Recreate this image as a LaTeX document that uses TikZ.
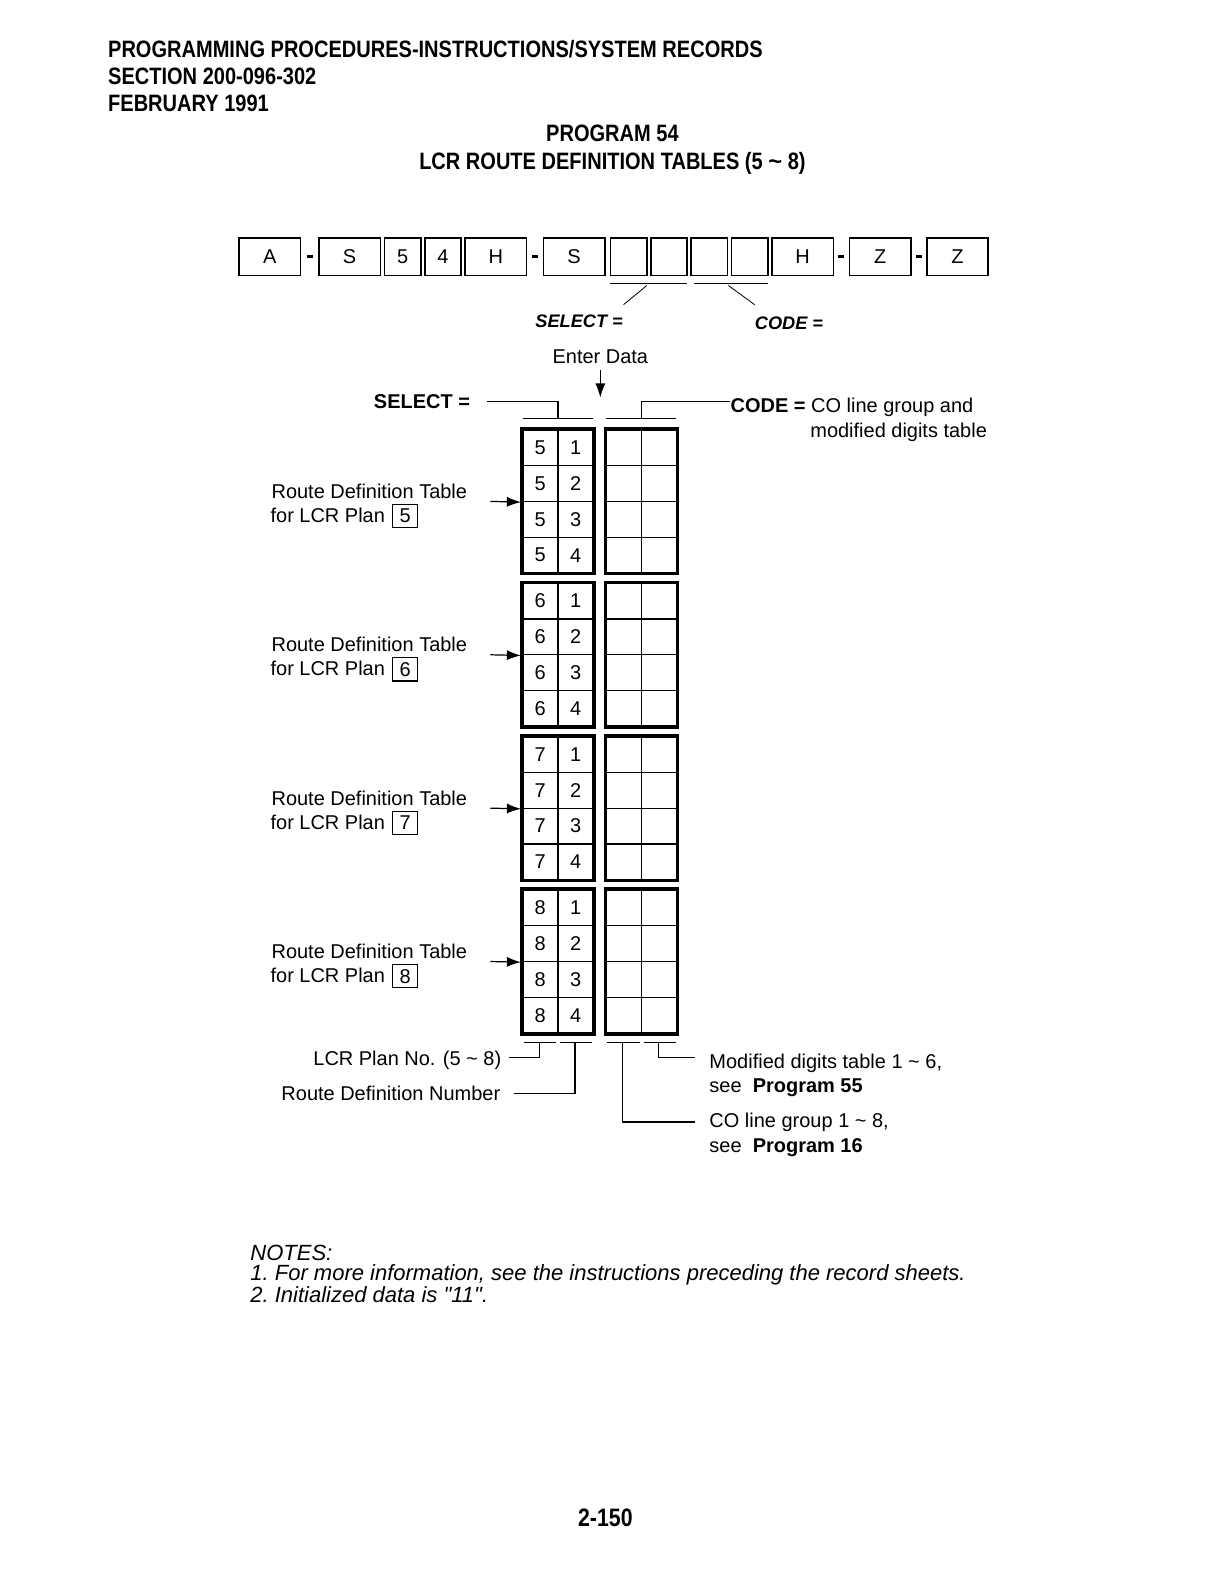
\documentclass[tikz,border=0pt]{standalone}
\usepackage{fontspec}
\setmainfont{Liberation Sans}
\newfontfamily\condb[FakeStretch=0.845]{Liberation Sans Bold}
\newfontfamily\plainsans{Liberation Sans}
\usetikzlibrary{arrows.meta}
\newcommand\fsz[1]{\fontsize{#1}{#1}\selectfont}
\begin{document}
\begin{tikzpicture}[x=1pt,y=-1pt,
  keybox/.style={draw,line width=1.6pt,minimum height=37pt,minimum width=61pt,inner sep=0pt,font=\fsz{19.8}},
  narrowbox/.style={keybox,minimum width=36pt},
  dashbar/.style={fill=black,inner sep=0pt,minimum width=6pt,minimum height=3pt},
  cell/.style={draw,line width=1.3pt,minimum width=35pt,minimum height=35.5pt,inner sep=0pt,font=\fsz{19.8}},
  thickline/.style={line width=3.5pt},
  thinline/.style={line width=1.2pt},
  body/.style={inner sep=0pt,font=\fsz{19.8}},
  bodyb/.style={inner sep=0pt,font=\bfseries\fsz{19.8}},
  hdr/.style={inner sep=0pt,font=\condb\fsz{23.5}},
  notes/.style={inner sep=0pt,font=\plainsans\itshape\fsz{21.8}},
  arr/.style={line width=1.2pt,-{Latex[length=14pt,width=10pt]}},
  plbox/.style={draw,line width=1.3pt,minimum width=25pt,minimum height=23pt,inner sep=0pt,font=\fsz{19.8}}
]
\useasboundingbox[fill=white] (0,0) rectangle (1202,1568);

% header
\node[hdr,anchor=base west] (h1) at (107,57) {PROGRAMMING PROCEDURES-INSTRUCTIONS/SYSTEM RECORDS};
\node[hdr,anchor=base west] (h2) at (107,84) {SECTION 200-096-302};
\node[hdr,anchor=base west] (h3) at (107,111) {FEBRUARY 1991};
\node[hdr,anchor=base] (t1) at (607,140) {PROGRAM 54};
\node[hdr,anchor=base] (t2) at (607,168) {LCR ROUTE DEFINITION TABLES (5 {\fontspec{Liberation Sans}\bfseries\char`~} 8)};

% key row
\node[keybox] (kA) at (267.5,254.5) {A};
\node[dashbar] (d1) at (307.5,254.5) {};
\node[keybox] (kS1) at (346.5,254.5) {S};
\node[narrowbox] (k5) at (399,254.5) {5};
\node[narrowbox] (k4) at (439,254.5) {4};
\node[keybox] (kH1) at (491.5,254.5) {H};
\node[dashbar] (d2) at (530,254.5) {};
\node[keybox] (kS2) at (569,254.5) {S};
\node[narrowbox] (e1) at (623,254.5) {};
\node[narrowbox] (e2) at (663,254.5) {};
\node[narrowbox] (e3) at (703,254.5) {};
\node[narrowbox] (e4) at (743,254.5) {};
\node[keybox] (kH2) at (795.5,254.5) {H};
\node[dashbar] (d3) at (834,254.5) {};
\node[keybox] (kZ1) at (872.5,254.5) {Z};
\node[dashbar] (d4) at (910.5,254.5) {};
\node[keybox] (kZ2) at (949,254.5) {Z};

\draw[thinline] (605,281) -- (681,281);
\draw[thinline] (688,281) -- (761,281);
\node[inner sep=0pt,font=\bfseries\itshape\fsz{18}] (selA) at (574,318) {SELECT =};
\node[inner sep=0pt,font=\bfseries\itshape\fsz{18}] (codeA) at (782,320) {CODE =};
\coordinate (su) at (641,283);
\coordinate (cu) at (722,283);
\draw[line width=0.8pt] (su) -- (618,302);
\draw[line width=0.8pt] (cu) -- (748,302);

% enter data
\node[body] (ent) at (595,354) {Enter Data};
\coordinate (entT) at (595,394);
\draw[arr] (595,367) -- (entT);

% select / code heading
\node[bodyb,anchor=east] (selB) at (466,398) {SELECT =};
\node[body,anchor=base west] (codeB) at (724,409) {\textbf{CODE =} CO line group and};
\node[body,anchor=base west] (codeB2) at (803,434) {modified digits table};
\draw[thinline] (518,415) -- (588,415);
\draw[thinline] (601,415) -- (670,415);
\draw[thinline] (483,398) -| (553,415);
\draw[thinline] (codeB.west |- 0,398) -| (636,415);

% tables
\foreach \b in {0,...,3} {
  \pgfmathtruncatemacro\plan{\b+5}
  \foreach \r in {0,...,3} {
    \pgfmathsetmacro\yy{426+152*\b+35.5*\r+17.75}
    \pgfmathtruncatemacro\rr{\r+1}
    \node[cell] (s-\b-\r-a) at (535.5,\yy) {\plan};
    \node[cell] (s-\b-\r-b) at (570.5,\yy) {\rr};
    \node[cell] (c-\b-\r-a) at (618.5,\yy) {};
    \node[cell] (c-\b-\r-b) at (653.5,\yy) {};
  }
  \draw[thickline] (s-\b-0-a.north west) rectangle (s-\b-3-b.south east);
  \draw[thickline] (c-\b-0-a.north west) rectangle (c-\b-3-b.south east);
  \pgfmathsetmacro\ya{494+152*\b}
  \pgfmathsetmacro\yb{518+152*\b}
  \pgfmathsetmacro\yc{511.5+152*\b}
  \pgfmathsetmacro\yd{497+152*\b}
  \node[body,anchor=base west] (lab-\b) at (269,\ya) {Route Definition Table};
  \node[body,anchor=base west] (for-\b) at (268,\yb) {for LCR Plan};
  \node[plbox] (pb-\b) at (401.5,\yc) {\plan};
  \coordinate (as-\b) at (486,\yd);
  \draw[arr] (as-\b) -- ([xshift=-1pt]s-\b-1-a.south west);
}

% bottom brackets
\draw[thinline] (519,1033) -- (551,1033);
\draw[thinline] (555,1033) -- (587,1033);
\draw[thinline] (602,1033) -- (634,1033);
\draw[thinline] (638,1033) -- (670,1033);
\node[body,anchor=base east] (lcrno) at (497,1056) {LCR Plan No. (5 \char`~\ 8)};
\node[body,anchor=base east] (rdn) at (496,1091) {Route Definition Number};
\node[body,anchor=base west] (mod1) at (703,1059) {Modified digits table 1 \char`~\ 6,};
\node[body,anchor=base west] (mod2) at (703,1083) {see\ \ \textbf{Program 55}};
\node[body,anchor=base west] (co1) at (703,1118) {CO line group 1 \char`~\ 8,};
\node[body,anchor=base west] (co2) at (703,1142) {see\ \ \textbf{Program 16}};
\draw[thinline] (504,1048) -| (535,1033);
\draw[thinline] (509,1084) -| (570,1033);
\draw[thinline] (689,1048) -| (653,1033);
\draw[thinline] (689,1112) -| (617,1033);

% notes
\node[notes,anchor=base west] (n0) at (248,1249) {NOTES:};
\node[notes,anchor=base west] (n1) at (248,1269) {1.\ For more information, see the instructions preceding the record sheets.};
\node[notes,anchor=base west] (n2) at (248,1291) {2.\ Initialized data is "11".};

% page number
\node[hdr,anchor=base,font=\condb\fsz{25}] (pg) at (600,1513) {2-150};
\end{tikzpicture}
\end{document}
